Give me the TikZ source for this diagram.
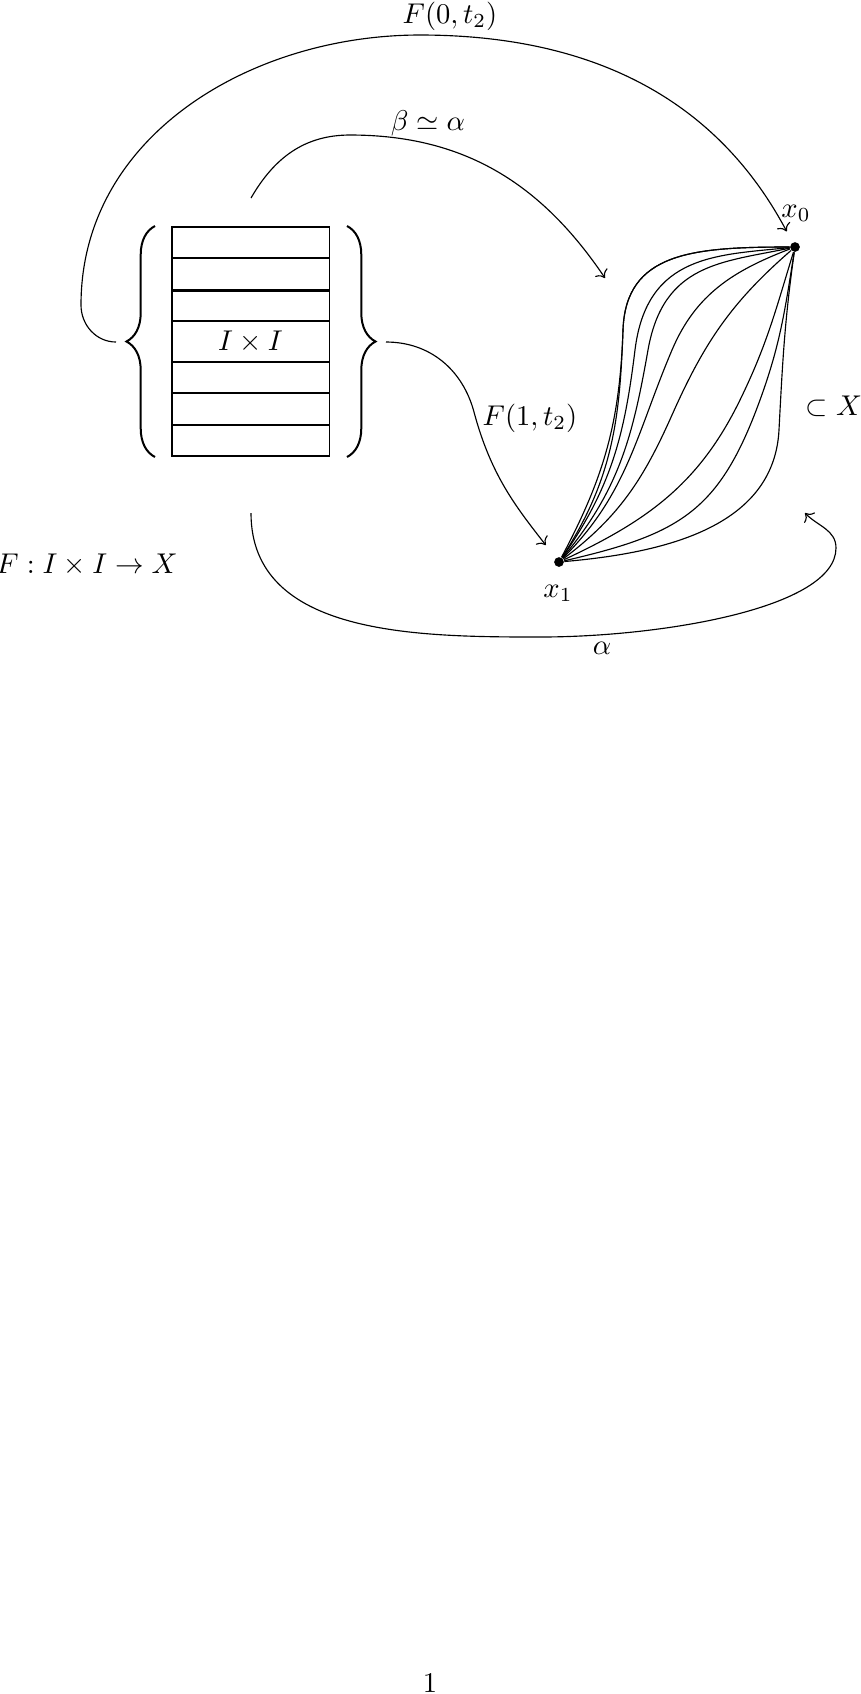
\documentclass[tikz,border=0pt]{standalone}
\usepackage{amsmath,amssymb}
\usetikzlibrary{arrows.meta,positioning,calc,decorations.pathreplacing}

\begin{document}
\begin{tikzpicture}[x=0.35pt, y=0.35pt,
    cell/.style={rectangle, draw, minimum width=55pt, inner sep=0pt},
    dot/.style={circle, fill, inner sep=0pt, minimum size=3.4pt},
    bigbrace/.style={decorate, decoration={brace, amplitude=10pt}, line width=0.7pt}
]
    \useasboundingbox (0,0) rectangle (861,-1694);

    % The square I x I, cut in strips
    \foreach \i/\y/\h in {1/242.5/31, 2/274/32, 3/305.5/31, 4/341.5/41, 5/377.5/31, 6/409/32, 7/440.5/31} {
        \node[cell, minimum height=\h*0.35pt] (c\i) at (250.5,-\y) {};
    }
    \draw[line width=0.8pt] (c2.south west) -- (c2.south east);
    \node (sq) at (c4) {$I\times I$};

    % Braces
    \coordinate (lbb) at (155,-457);
    \coordinate (lbt) at (155,-226);
    \coordinate (rbt) at (347,-226);
    \coordinate (rbb) at (347,-457);
    \draw[bigbrace] (lbb) -- (lbt);
    \draw[bigbrace] (rbt) -- (rbb);

    % End points
    \node[dot] (x0) at (795,-247) {};
    \node[dot] (x1) at (559,-562) {};
    \node (lx0) at (796,-213) {$x_0$};
    \node (lx1) at (558,-593) {$x_1$};
    \node (lX) at (834,-406) {$\subset X$};

    % Paths from x1 to x0
    \foreach \a/\wx/\wy/\w/\b/\la/\lo/\li in {
        62/623/330/88/180/1/1.07/1.34,
        57/623/330/88/180/1/1.07/1.34,
        55/635/350/83/186/1/1.34/1,
        50/648/350/80/192/1/1.3/1,
        45/672/350/67/201/1/1/1,
        37/672/415/66/221/1/1/1,
        25/740/400/64/253/1/1/1,
        13/760/400/70/261/1.2/1/1,
        5/779/430/87/262/1/1/1} {
        \pgfmathsetmacro{\wi}{\w+180}
        \draw (x1) to[out=\a, in=\wi, looseness=\la] (\wx,-\wy)
              to[out=\w, in=\b, out looseness=\lo, in looseness=\li] (x0);
    }

    % F(0,t_2)
    \coordinate (f0s) at (116,-342);
    \draw[->, shorten >=4.3pt] (f0s) to[out=180, in=270] (81,-305) to[out=90, in=180] (420,-35) to[out=0, in=118] (x0);
    \node (lf0) at (450,-16) {$F(0,t_2)$};

    % beta ~ alpha
    \coordinate (bs) at (251,-198);
    \coordinate (be) at (605,-278);
    \draw[->] (bs) to[out=60, in=180] (350,-135) to[out=0, in=124] (be);
    \node (lb) at (428,-123) {$\beta\simeq\alpha$};

    % F(1,t_2)
    \coordinate (f1s) at (386,-342);
    \draw[->, shorten >=5.6pt] (f1s) to[out=0, in=105] (474,-412) to[out=-75, in=128] (x1);
    \node (lf1) at (530,-418) {$F(1,t_2)$};

    % alpha
    \coordinate (as) at (251,-513);
    \coordinate (ae) at (805,-513);
    \draw[->] (as) to[out=270, in=180] (540,-637) to[out=0, in=270, in looseness=0.5] (836,-548) to[out=90, in=-46] (ae);
    \node (la) at (602,-648) {$\alpha$};

    \node[inner sep=0pt] (lF) at (87,-565) {$F: I\times I\to X$};

    % page number
    \node[inner sep=0pt] (pg) at (430,-1683) {1};
\end{tikzpicture}
\end{document}
